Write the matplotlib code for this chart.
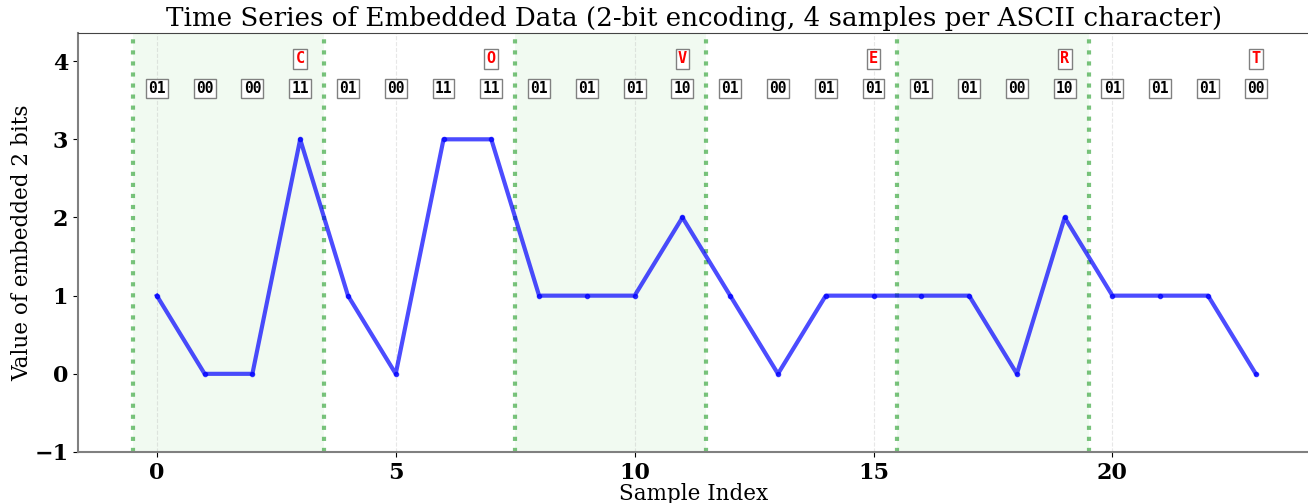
import matplotlib
matplotlib.use("Agg")
import matplotlib.pyplot as plt

values = [1, 0, 0, 3, 1, 0, 3, 3, 1, 1, 1, 2, 1, 0, 1, 1, 1, 1, 0, 2, 1, 1, 1, 0]
bits = ["01", "00", "00", "11", "01", "00", "11", "11", "01", "01", "01", "10",
        "01", "00", "01", "01", "01", "01", "00", "10", "01", "01", "01", "00"]
chars = ["C", "O", "V", "E", "R", "T"]
samples_per_char = 4

fig = plt.figure(figsize=(13.08, 5.03), dpi=100)
ax = fig.add_axes([78 / 1308, 51 / 503, (1337 - 78) / 1308, (452 - 33) / 503])

x = list(range(len(values)))

# shaded groups
for k in range(len(chars)):
    start = k * samples_per_char - 0.5
    end = start + samples_per_char
    if k % 2 == 0:
        ax.axvspan(start, end, color="#e9f7e9", alpha=0.6, lw=0, zorder=0)
        ax.axvline(start, color="#4caf50", ls=":", lw=3, alpha=0.75, zorder=1)
        ax.axvline(end, color="#4caf50", ls=":", lw=3, alpha=0.75, zorder=1)

ax.plot(x, values, color="blue", lw=3, alpha=0.7, marker="o", markersize=3, zorder=3)

for i, b in enumerate(bits):
    ax.text(x[i], 3.65, b, ha="center", va="center", family="monospace",
            fontweight="bold", fontsize=10.5,
            bbox=dict(boxstyle="square,pad=0.15", fc="white", ec="gray", lw=1))

for k, c in enumerate(chars):
    xi = k * samples_per_char + samples_per_char - 1
    ax.text(xi, 4.03, c, ha="center", va="center", family="monospace",
            fontweight="bold", fontsize=11, color="red",
            bbox=dict(boxstyle="square,pad=0.15", fc="white", ec="gray", lw=1))

ax.set_xlim(-1.65, 24.7)
ax.set_ylim(-1, 4.36)
ax.set_xticks([0, 5, 10, 15, 20])
ax.set_yticks([-1, 0, 1, 2, 3, 4])
ax.grid(axis="x", ls="--", alpha=0.3)
ax.set_axisbelow(True)

for lab in ax.get_xticklabels() + ax.get_yticklabels():
    lab.set_family("serif")
    lab.set_fontweight("bold")
    lab.set_fontsize(16)

for s in ["left", "bottom"]:
    ax.spines[s].set_color("gray")
    ax.spines[s].set_linewidth(1.5)
ax.spines["top"].set_color("#444444")
ax.tick_params(colors="black")

mid = (694 - 78) / (1337 - 78)
ax.set_title("Time Series of Embedded Data (2-bit encoding, 4 samples per ASCII character)",
             family="serif", fontsize=18.8, x=mid, pad=5)
ax.set_xlabel("Sample Index", family="serif", fontsize=15.5)
ax.xaxis.set_label_coords(mid, -0.074)
ax.set_ylabel("Value of embedded 2 bits", family="serif", fontsize=15.5, va="center")
ax.yaxis.set_label_coords(-0.0445, 0.5)

fig.savefig("out.png", dpi=100)
